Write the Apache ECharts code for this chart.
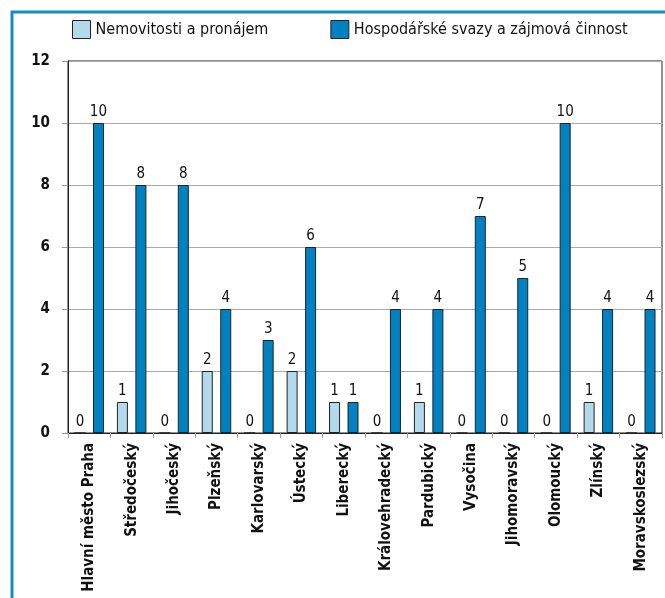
<!DOCTYPE html>
<html>
<head>
<meta charset="utf-8">
<script src="https://cdn.jsdelivr.net/npm/echarts@6/dist/echarts.min.js"></script>
<style>
  html, body { margin: 0; padding: 0; background: #fff; }
  #main { width: 665px; height: 598px; }
</style>
</head>
<body>
<div id="main"></div>
<script>
// kraje
var regions = ['Hlavní město Praha', 'Středočeský', 'Jihočeský', 'Plzeňský', 'Karlovarský', 'Ústecký',
  'Liberecký', 'Královehradecký', 'Pardubický', 'Vysočina', 'Jihomoravský', 'Olomoucký', 'Zlínský', 'Moravskoslezský'];
var nemovitosti = [0, 1, 0, 2, 0, 2, 1, 0, 1, 0, 0, 0, 1, 0];
var svazy = [10, 8, 8, 4, 3, 6, 1, 4, 4, 7, 5, 10, 4, 4];
var seriesNames = ['Nemovitosti a pronájem', 'Hospodářské svazy a zájmová činnost'];

var font = '"DejaVu Sans Condensed", "Open Sans", sans-serif';
var myChart = echarts.init(document.getElementById('main'));
var option = {
  animation: false,
  textStyle: { fontFamily: font },
  graphic: [{
    type: 'rect',
    shape: { x: 12, y: 12, width: 680, height: 620 },
    style: { fill: 'none', stroke: '#1a8ac6', lineWidth: 3 },
    z: 0
  }],
  legend: {
    top: 20,
    left: 72,
    padding: 0,
    icon: 'rect',
    itemWidth: 18,
    itemHeight: 18,
    itemGap: 62,
    data: seriesNames,
    itemStyle: { borderColor: '#222', borderWidth: 1 },
    textStyle: { fontSize: 16, color: '#111', fontFamily: font }
  },
  grid: {
    left: 68, right: 3, top: 61, bottom: 165,
    show: true, borderColor: '#222', borderWidth: 1
  },
  xAxis: {
    type: 'category',
    data: regions,
    axisLine: { lineStyle: { color: '#222' } },
    axisTick: { show: true, length: 5, lineStyle: { color: '#999' } },
    axisLabel: {
      rotate: 90, interval: 0, margin: 10,
      fontSize: 15, fontWeight: 'bold', color: '#111', fontFamily: font
    }
  },
  yAxis: {
    type: 'value',
    min: 0, max: 12, interval: 2,
    axisLine: { show: true, lineStyle: { color: '#222' } },
    axisTick: { show: true, length: 6, lineStyle: { color: '#999' } },
    splitLine: { lineStyle: { color: '#aaa' } },
    axisLabel: { fontSize: 15, fontWeight: 'bold', color: '#111', margin: 18, fontFamily: font }
  },
  series: [{
    name: seriesNames[0],
    type: 'bar',
    data: nemovitosti,
    barWidth: 11,
    barGap: '68%',
    itemStyle: { color: '#b3d9ec', borderColor: '#222', borderWidth: 1 },
    label: { show: true, position: 'top', fontSize: 15, color: '#111', distance: 3 }
  }, {
    name: seriesNames[1],
    type: 'bar',
    data: svazy,
    barWidth: 11,
    itemStyle: { color: '#0082c2', borderColor: '#222', borderWidth: 1 },
    label: { show: true, position: 'top', fontSize: 15, color: '#111', distance: 3 }
  }]
};
myChart.setOption(option);
</script>
</body>
</html>
